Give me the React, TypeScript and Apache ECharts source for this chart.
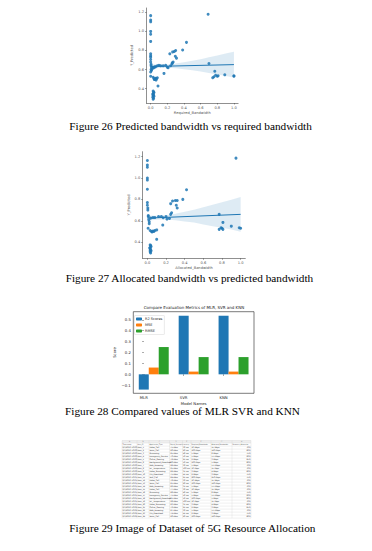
import React, { useEffect, useRef } from "react";
import * as echarts from "echarts";

// ---------- Figure 26: Required_Bandwidth vs Y_Predicted ----------
const reqBw26 = [0, 0, 0, 0, 0, 0, 0, 0, 0, 0, 0, 0.005, 0.005, 0.01, 0.005, 0.01, 0, 0,
  0.02, 0.03, 0.04, 0.05, 0.06, 0.08, 0.1, 0.12, 0.15, 0.18, 0.2, 0.21,
  0.03, 0.04, 0.05, 0.06, 0.07, 0.08, 0.045, 0.065,
  0.088, 0.16,
  0.03, 0.035, 0.04, 0.03, 0.025, 0.035, 0.03, 0.04, 0.025, 0.035, 0.03,
  0.23, 0.264, 0.284, 0.3, 0.296, 0.31, 0.24, 0.256, 0.27, 0.26, 0.384, 0.43,
  0.69, 0.7, 0.77, 0.78, 0.8, 0.745, 0.81, 0.76, 0.89, 1.0, 1.0];
const pred26 = [1.165, 1.12, 1.1, 1.0, 0.97, 0.895, 0.765, 0.745, 0.73, 0.705, 0.68, 0.655, 0.64, 0.62, 0.6, 0.59, 0.575, 0.53,
  0.61, 0.625, 0.62, 0.63, 0.63, 0.64, 0.645, 0.64, 0.64, 0.645, 0.625, 0.62,
  0.52, 0.505, 0.5, 0.51, 0.505, 0.515, 0.495, 0.49,
  0.428, 0.56,
  0.375, 0.365, 0.36, 0.35, 0.34, 0.335, 0.325, 0.32, 0.31, 0.3, 0.29,
  0.765, 0.785, 0.79, 0.8, 0.74, 0.72, 0.64, 0.66, 0.68, 0.67, 0.805, 0.885,
  1.18, 0.663, 0.583, 0.54, 0.53, 0.515, 0.535, 0.525, 0.545, 0.535, 0.53];
const fitX26 = [0, 1];
const fitY26 = [0.632, 0.652];
const bandX = [0, 0.1, 0.2, 0.3, 0.4, 0.5, 0.6, 0.7, 0.8, 0.9, 1.0];
const bandUpper26 = [0.657, 0.652, 0.654, 0.663, 0.677, 0.692, 0.709, 0.728, 0.748, 0.768, 0.787];
const bandLower26 = [0.607, 0.616, 0.618, 0.613, 0.603, 0.592, 0.579, 0.564, 0.548, 0.532, 0.517];

// ---------- Figure 27: Allocated_Bandwidth vs Y_Predicted ----------
const allocBw27 = [0, 0, 0, 0, 0, 0, 0, 0, 0.005, 0.005, 0.01, 0.01, 0.015, 0.02, 0.02, 0.008,
  0.035, 0.06, 0.08, 0.12, 0.15, 0.17, 0.2, 0.21, 0.237,
  0.03, 0.045, 0.06, 0.08, 0.1, 0.05, 0.07,
  0.1, 0.165,
  0.25, 0.26, 0.25, 0.27, 0.3, 0.32, 0.31, 0.32, 0.38, 0.42,
  0.03, 0.035, 0.04, 0.03, 0.025, 0.035, 0.03, 0.04, 0.03, 0.035,
  0.95, 0.77, 0.77, 0.79, 0.8, 0.81, 0.81, 0.9, 0.985, 1.0];
const pred27 = [1.163, 1.12, 1.1, 1.0, 0.98, 0.894, 0.77, 0.745, 0.72, 0.7, 0.65, 0.64, 0.61, 0.59, 0.573, 0.53,
  0.625, 0.63, 0.63, 0.64, 0.64, 0.628, 0.64, 0.616, 0.622,
  0.51, 0.5, 0.505, 0.51, 0.515, 0.495, 0.5,
  0.427, 0.56,
  0.66, 0.675, 0.76, 0.785, 0.79, 0.79, 0.745, 0.72, 0.8, 0.89,
  0.375, 0.37, 0.36, 0.35, 0.345, 0.335, 0.325, 0.32, 0.31, 0.3,
  1.185, 0.66, 0.52, 0.535, 0.53, 0.52, 0.585, 0.55, 0.535, 0.53];
const fitX27 = [0, 1];
const fitY27 = [0.625, 0.66];
const bandUpper27 = [0.65, 0.646, 0.652, 0.665, 0.684, 0.703, 0.726, 0.75, 0.773, 0.797, 0.823];
const bandLower27 = [0.6, 0.61, 0.612, 0.605, 0.594, 0.583, 0.566, 0.55, 0.535, 0.519, 0.497];

const scatterXTicks = [0, 0.2, 0.4, 0.6, 0.8, 1.0];
const scatterYTicks = [0.4, 0.6, 0.8, 1.0, 1.2];

// ---------- Figure 28: metrics ----------
const models = ["MLR", "SVR", "KNN"];
const r2Scores = [-0.14, 0.537, 0.537];
const mseValues = [0.062, 0.025, 0.025];
const rmseValues = [0.25, 0.158, 0.158];
const barYTicks = [-0.1, 0, 0.1, 0.2, 0.3, 0.4, 0.5];

// ---------- Figure 29: dataset table ----------
const colLetters = ["A", "B", "C", "D", "E", "F", "G", "H"];
const colHeaders = ["Timestamp", "User_ID", "Application_Type", "Signal_Strength", "Latency", "Required_Bandwidth", "Allocated_Bandwidth", "Resource_Allocation"];
const rowTimestamps = ["9/3/2023 10:00", "9/3/2023 10:00", "9/3/2023 10:00", "9/3/2023 10:00", "9/3/2023 10:00", "9/3/2023 10:00", "9/3/2023 10:00", "9/3/2023 10:00", "9/3/2023 10:00", "9/3/2023 10:00", "9/3/2023 10:01", "9/3/2023 10:01", "9/3/2023 10:01", "9/3/2023 10:01", "9/3/2023 10:01", "9/3/2023 10:01", "9/3/2023 10:01", "9/3/2023 10:01", "9/3/2023 10:01", "9/3/2023 10:01", "9/3/2023 10:02", "9/3/2023 10:02", "9/3/2023 10:02", "9/3/2023 10:02"];
const rowUsers = ["User_1", "User_2", "User_3", "User_4", "User_5", "User_6", "User_7", "User_8", "User_9", "User_10", "User_11", "User_12", "User_13", "User_14", "User_15", "User_16", "User_17", "User_18", "User_19", "User_20", "User_21", "User_22", "User_23", "User_24"];
const rowApps = ["Video_Call", "Voice_Call", "Streaming", "Emergency_Service", "Online_Gaming", "Background_Download", "Web_Browsing", "IoT_Temperature", "Video_Streaming", "File_Download", "VoIP_Call", "Video_Call", "Voice_Call", "Web_Browsing", "Video_Call", "Streaming", "Emergency_Service", "Background_Download", "IoT_Temperature", "Video_Streaming", "Online_Gaming", "Web_Browsing", "File_Download", "Voice_Call"];
const rowSignal = ["-75 dBm", "-80 dBm", "-85 dBm", "-70 dBm", "-78 dBm", "-90 dBm", "-88 dBm", "-95 dBm", "-82 dBm", "-75 dBm", "-84 dBm", "-76 dBm", "-81 dBm", "-89 dBm", "-77 dBm", "-86 dBm", "-71 dBm", "-91 dBm", "-96 dBm", "-83 dBm", "-79 dBm", "-87 dBm", "-74 dBm", "-80 dBm"];
const rowLatency = ["30 ms", "20 ms", "40 ms", "10 ms", "25 ms", "50 ms", "30 ms", "100 ms", "35 ms", "45 ms", "25 ms", "30 ms", "20 ms", "35 ms", "30 ms", "40 ms", "10 ms", "50 ms", "100 ms", "35 ms", "25 ms", "30 ms", "45 ms", "20 ms"];
const rowReq = ["10 Mbps", "100 Kbps", "5 Mbps", "1 Mbps", "2 Mbps", "500 Kbps", "1 Mbps", "10 Kbps", "3 Mbps", "2 Mbps", "200 Kbps", "10 Mbps", "100 Kbps", "1 Mbps", "10 Mbps", "5 Mbps", "1 Mbps", "500 Kbps", "10 Kbps", "3 Mbps", "2 Mbps", "1 Mbps", "2 Mbps", "100 Kbps"];
const rowAlloc = ["15 Mbps", "120 Kbps", "6 Mbps", "1.5 Mbps", "3 Mbps", "1 Mbps", "1.5 Mbps", "15 Kbps", "4 Mbps", "3 Mbps", "250 Kbps", "15 Mbps", "120 Kbps", "1.5 Mbps", "15 Mbps", "6 Mbps", "1.5 Mbps", "1 Mbps", "15 Kbps", "4 Mbps", "3 Mbps", "1.5 Mbps", "3 Mbps", "120 Kbps"];
const rowResource = ["70%", "80%", "75%", "90%", "85%", "60%", "70%", "70%", "80%", "75%", "75%", "70%", "80%", "70%", "70%", "75%", "90%", "60%", "70%", "80%", "85%", "70%", "75%", "80%"];

const captions = [
  "Figure 26 Predicted bandwidth vs required bandwidth",
  "Figure 27 Allocated bandwidth vs predicted bandwidth",
  "Figure 28 Compared values of MLR SVR and KNN",
  "Figure 29 Image of Dataset of 5G Resource Allocation",
];

const BLUE = "#1f77b4";
const SANS = "DejaVu Sans";
const SERIF = "Liberation Serif";

function scatterAxes(gridIndex: number, xName: string) {
  const axisColor = "#444";
  const tickFont = { fontSize: 3.6, color: "#555", fontFamily: SANS };
  return {
    x: {
      gridIndex, type: "value", min: -0.05, max: 1.05,
      splitLine: { show: false },
      axisLine: { onZero: false, lineStyle: { color: axisColor, width: 0.6 } },
      axisTick: { customValues: scatterXTicks, length: 1.5, lineStyle: { color: axisColor, width: 0.5 } },
      axisLabel: { customValues: scatterXTicks, formatter: (v: number) => v.toFixed(1), margin: 2.5, ...tickFont },
      name: xName, nameLocation: "middle", nameGap: 8,
      nameTextStyle: { fontSize: 3.6, color: "#555", fontFamily: SANS },
    },
    y: {
      gridIndex, type: "value", min: 0.25, max: 1.245,
      splitLine: { show: false },
      axisLine: { onZero: false, lineStyle: { color: axisColor, width: 0.6 } },
      axisTick: { customValues: scatterYTicks, length: 1.5, lineStyle: { color: axisColor, width: 0.5 } },
      axisLabel: { customValues: scatterYTicks, formatter: (v: number) => v.toFixed(1), margin: 2.5, ...tickFont },
      name: "Y_Predicted", nameLocation: "middle", nameGap: 10,
      nameTextStyle: { fontSize: 3.6, color: "#555", fontFamily: SANS },
    },
  };
}

function regSeries(idx: number, xs: number[], ys: number[], fx: number[], fy: number[], up: number[], lo: number[]) {
  return [
    {
      type: "custom", xAxisIndex: idx, yAxisIndex: idx, silent: true, z: 1,
      data: [[bandX[0], lo[0]]],
      renderItem: (_p: any, api: any) => {
        const top = bandX.map((x, i) => api.coord([x, up[i]]));
        const bot = bandX.map((x, i) => api.coord([x, lo[i]])).reverse();
        return { type: "polygon", shape: { points: [...top, ...bot] }, style: { fill: BLUE, opacity: 0.15 } };
      },
    },
    {
      type: "scatter", xAxisIndex: idx, yAxisIndex: idx, symbolSize: 3, z: 2,
      itemStyle: { color: BLUE, opacity: 0.85 },
      data: xs.map((x, i) => [x, ys[i]]),
    },
    {
      type: "line", xAxisIndex: idx, yAxisIndex: idx, symbol: "none", z: 3,
      lineStyle: { color: BLUE, width: 1 },
      data: fx.map((x, i) => [x, fy[i]]),
    },
  ];
}

function tableGraphics() {
  const els: any[] = [];
  const colL = [122, 137, 149, 169.5, 182.5, 191, 211, 232];
  const right = 251;
  const top = 440.5;
  const letterH = 2.6;
  const rowH = 3.0;
  const nRows = rowUsers.length;
  const bottom = top + letterH + rowH * (nRows + 1);
  const fs = 1.9;
  const lineCol = "#cccccc";
  els.push({ type: "rect", shape: { x: colL[0], y: top, width: right - colL[0], height: letterH }, style: { fill: "#eeeeee" } });
  for (let r = 0; r <= nRows + 1; r++) {
    const y = top + letterH + r * rowH;
    els.push({ type: "line", shape: { x1: colL[0], y1: y, x2: right, y2: y }, style: { stroke: lineCol, lineWidth: 0.3 } });
  }
  els.push({ type: "line", shape: { x1: colL[0], y1: top, x2: right, y2: top }, style: { stroke: lineCol, lineWidth: 0.3 } });
  [...colL, right].forEach((x) => {
    els.push({ type: "line", shape: { x1: x, y1: top, x2: x, y2: bottom }, style: { stroke: lineCol, lineWidth: 0.3 } });
  });
  const cols = [rowTimestamps, rowUsers, rowApps, rowSignal, rowLatency, rowReq, rowAlloc, rowResource];
  colLetters.forEach((l, c) => {
    const cx = (colL[c] + (c < 7 ? colL[c + 1] : right)) / 2;
    els.push({ type: "text", x: cx, y: top + letterH / 2, style: { text: l, fontSize: 1.6, fill: "#777", align: "center", verticalAlign: "middle", fontFamily: SANS } });
  });
  colHeaders.forEach((h, c) => {
    els.push({ type: "text", x: colL[c] + 0.4, y: top + letterH + rowH / 2, style: { text: h, fontSize: 1.6, fill: "#222", align: "left", verticalAlign: "middle", fontFamily: SANS } });
  });
  for (let r = 0; r < nRows; r++) {
    const y = top + letterH + rowH * (r + 1) + rowH / 2;
    cols.forEach((col, c) => {
      const last = c === 7;
      const x = last ? right - 0.4 : colL[c] + 0.4;
      els.push({ type: "text", x, y, style: { text: col[r], fontSize: fs, fill: "#222", align: last ? "right" : "left", verticalAlign: "middle", fontFamily: SANS } });
    });
  }
  return els;
}

export default function App() {
  const ref = useRef<HTMLDivElement>(null);
  useEffect(() => {
    if (!ref.current) return;
    const chart = echarts.init(ref.current, null, { renderer: "svg" });
    const a26 = scatterAxes(0, "Required_Bandwidth");
    const a27 = scatterAxes(1, "Allocated_Bandwidth");
    const barFont = { fontSize: 3.8, color: "#222", fontFamily: SANS };
    const barSeries = (name: string, vals: number[], offset: number, color: string) => ({
      type: "bar", name, xAxisIndex: 2, yAxisIndex: 2, barWidth: 10, barGap: "-100%",
      itemStyle: { color }, data: vals.map((v, i) => [i + offset, v]),
    });
    const capFs = 11.25;
    const captionCenter = [126.3, 278.3, 410.9, 528.3];
    const captionX = [69.3, 65.7, 65, 69.3];
    chart.setOption({
      animation: false,
      backgroundColor: "#ffffff",
      title: [
        {
          text: "Compare Evaluation Metrics of MLR, SVR and KNN",
          left: 194, top: 305.5, textAlign: "center", padding: 0,
          textStyle: { fontSize: 4, fontWeight: "normal", color: "#222", fontFamily: SANS },
        },
        ...captions.map((t, i) => ({
          text: t, left: captionX[i], top: captionCenter[i] - capFs * 0.5, padding: 0,
          textStyle: { fontSize: capFs, lineHeight: capFs, fontWeight: "normal", color: "#000", fontFamily: SERIF },
        })),
      ],
      legend: {
        left: 134.5, top: 315.5, orient: "vertical", itemWidth: 6, itemHeight: 3, itemGap: 2,
        padding: [1.5, 2, 1.5, 1.5], borderColor: "#cccccc", borderWidth: 0.4, borderRadius: 0.5,
        textStyle: { fontSize: 3.5, color: "#222", fontFamily: SANS, padding: [0, 0, 0, -2] },
        data: ["R2 Scores", "MSE", "RMSE"],
      },
      grid: [
        { left: 146.5, top: 8, width: 91.6, height: 95 },
        { left: 142.7, top: 151.7, width: 102.6, height: 106.6 },
        { left: 133.3, top: 311.7, width: 120.7, height: 81.6, show: true, borderColor: "#222", borderWidth: 0.6 },
      ],
      xAxis: [
        a26.x, a27.x,
        {
          gridIndex: 2, type: "value", min: -0.2625, max: 2.7625,
          splitLine: { show: false }, axisLine: { show: false },
          axisTick: { customValues: [0, 1, 2], length: 1.5, lineStyle: { color: "#222", width: 0.5 } },
          axisLabel: { customValues: [0, 1, 2], formatter: (v: number) => models[Math.round(v)] ?? "", margin: 2.5, ...barFont },
          name: "Model Names", nameLocation: "middle", nameGap: 7.8,
          nameTextStyle: barFont,
        },
      ],
      yAxis: [
        a26.y, a27.y,
        {
          gridIndex: 2, type: "value", min: -0.174, max: 0.574,
          splitLine: { show: false }, axisLine: { show: false },
          axisTick: { customValues: barYTicks, length: 1.5, lineStyle: { color: "#222", width: 0.5 } },
          axisLabel: {
            customValues: barYTicks, margin: 2.5, ...barFont,
            formatter: (v: number) => (v < 0 ? "\u2212" + Math.abs(v).toFixed(1) : v.toFixed(1)),
          },
          name: "Score", nameLocation: "middle", nameGap: 17, nameTextStyle: barFont,
        },
      ],
      series: [
        ...regSeries(0, reqBw26, pred26, fitX26, fitY26, bandUpper26, bandLower26),
        ...regSeries(1, allocBw27, pred27, fitX27, fitY27, bandUpper27, bandLower27),
        barSeries("R2 Scores", r2Scores, 0, "#1f77b4"),
        barSeries("MSE", mseValues, 0.25, "#ff7f0e"),
        barSeries("RMSE", rmseValues, 0.5, "#2ca02c"),
      ],
      graphic: tableGraphics(),
    });
    return () => chart.dispose();
  }, []);
  return <div ref={ref} style={{ position: "fixed", left: 0, top: 0, width: 372, height: 551, background: "#fff" }} />;
}
